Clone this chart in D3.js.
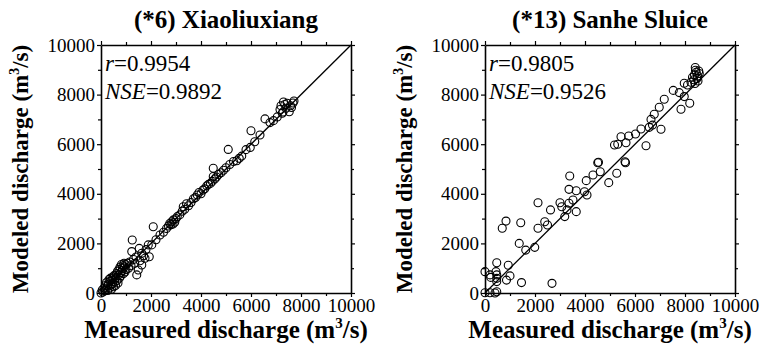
<!DOCTYPE html>
<html>
<head>
<meta charset="utf-8">
<script src="https://cdn.jsdelivr.net/npm/d3@7"></script>
<style>
  body { margin: 0; background: #fff; }
</style>
</head>
<body>
<svg id="chart" width="763" height="355"></svg>
<script>
// panel titles and statistics
const titles = ["(*6) Xiaoliuxiang", "(*13) Sanhe Sluice"];
const rValues = ["0.9954", "0.9805"];
const nseValues = ["0.9892", "0.9526"];
const tickValues = [0, 2000, 4000, 6000, 8000, 10000];
const minorTicks = [1000, 3000, 5000, 7000, 9000];

// measured vs modeled discharge (m3/s)
const xiaoliuxiang = [
  [0,0],[50,120],[80,40],[120,200],[150,90],[180,300],[200,150],[220,420],[250,280],[270,100],
  [300,350],[320,550],[340,200],[360,480],[380,600],[400,320],[420,150],[440,520],[460,380],[480,650],
  [500,250],[520,700],[540,450],[560,560],[580,300],[600,620],[620,780],[640,500],[660,880],[680,400],
  [700,720],[720,950],[740,600],[760,1050],[780,820],[800,700],[820,1150],[840,900],[860,1000],[880,1100],
  [900,780],[920,1200],[940,1050],[960,850],[980,1150],[1000,950],[1050,1200],[1100,1000],[1150,1250],[1200,1100],
  [1230,1670],[1250,2140],[1300,1350],[1350,1200],[1400,1450],[1430,730],[1490,930],[1530,1800],[1560,1300],[1630,1130],
  [1630,1600],[1700,1500],[1760,1400],[1800,1750],[1890,1940],[1930,1460],[2030,1940],[2090,2670],[2200,2150],[2360,2340],
  [2500,2450],[2620,2600],[2700,2700],[2750,2800],[2800,2750],[2830,2870],[2880,2780],[2900,2950],[2950,2850],[3000,3000],
  [3050,3080],[3150,3150],[3250,3300],[3290,3480],[3350,3380],[3420,3600],[3500,3520],[3600,3650],[3700,3800],[3780,3850],
  [3850,3950],[3920,4050],[4000,4000],[4080,4150],[4150,4200],[4230,4320],[4300,4380],[4380,4420],[4450,4500],[4490,4700],
  [4490,5030],[4550,4600],[4620,4680],[4700,4780],[4800,4850],[4900,4950],[5000,5050],[5090,5790],[5150,5180],[5300,5300],
  [5430,5330],[5530,5430],[5630,5520],[5800,5780],[5970,5870],[6000,6540],[6150,6100],[6360,6370],[6560,7020],[6760,6870],
  [6900,6950],[7050,7100],[7160,7400],[7200,7550],[7280,7300],[7350,7600],[7400,7450],[7450,7650],[7530,7310],[7580,7550],
  [7620,7480],[7680,7660],[7720,7740],[7300,7700],[7250,7250]
];
const sanheSluice = [
  [0,10],[0,860],[200,10],[200,730],[230,630],[400,0],[470,50],[470,460],[470,590],[470,730],
  [440,860],[470,1220],[860,520],[1000,690],[930,1120],[690,2610],[840,2900],[1460,420],[1370,2000],[1430,2830],
  [1630,1730],[1990,1840],[2120,2610],[2120,3640],[2390,2870],[2500,2740],[2620,3350],[2680,390],[3000,3640],[3070,3480],
  [3190,3080],[3280,3350],[3360,3620],[3360,4180],[3390,4720],[3520,3750],[3650,3280],[3650,4120],[3980,4080],[4080,3950],
  [4050,4530],[4320,4760],[4510,5250],[4540,5270],[4610,4890],[4950,4450],[5180,5970],[5270,4830],[5310,6000],[5440,6300],
  [5600,5290],[5620,5250],[5640,6060],[5750,6330],[6020,6410],[6240,6610],[6440,5940],[6570,6680],[6640,7000],[6700,6770],
  [6770,7210],[6970,7490],[7040,6600],[7170,7810],[7530,8170],[7770,8080],[7840,7410],[7970,7920],[7970,8460],[8100,8390],
  [8190,7650],[8240,8500],[8300,8700],[8350,8600],[8380,8800],[8400,8450],[8410,9090],[8450,8900],[8480,8650],[8500,8750],
  [8520,8550],[8550,8950],[8570,8850],[8420,8980]
];

const panels = [
  { data: xiaoliuxiang, left: 101, cx: 226 },
  { data: sanheSluice, left: 485, cx: 610 }
];

const serif = "Tinos, 'Liberation Serif', 'Noto Serif', FreeSerif, 'DejaVu Serif', serif";
const svg = d3.select("#chart").attr("font-family", serif);
const plotTop = 45, plotH = 248, plotW = 250;

panels.forEach((p, i) => {
  const x = d3.scaleLinear().domain([0, 10000]).range([0, plotW]);
  const y = d3.scaleLinear().domain([0, 10000]).range([plotH, 0]);
  const g = svg.append("g").attr("transform", `translate(${p.left}, ${plotTop})`);

  // axes on four sides, major and minor ticks
  const styleAxis = sel => {
    sel.attr("font-family", serif);
    sel.select(".domain").attr("stroke", "#000").attr("stroke-width", 1.6);
    sel.selectAll(".tick line").attr("stroke", "#000").attr("stroke-width", 1.2);
  };
  const fmt = d3.format("d");
  g.append("g").attr("transform", `translate(0, ${plotH})`)
    .call(d3.axisBottom(x).tickValues(tickValues).tickFormat(fmt).tickSize(4).tickSizeOuter(0).tickPadding(2))
    .call(styleAxis)
    .selectAll("text").attr("font-size", 19).attr("fill", "#000");
  g.append("g")
    .call(d3.axisLeft(y).tickValues(tickValues).tickFormat(fmt).tickSize(4).tickSizeOuter(0).tickPadding(2))
    .call(styleAxis)
    .selectAll("text").attr("font-size", 19).attr("fill", "#000");
  g.append("g")
    .call(d3.axisTop(x).tickValues(tickValues).tickFormat("").tickSize(4).tickSizeOuter(0))
    .call(styleAxis);
  g.append("g").attr("transform", `translate(${plotW}, 0)`)
    .call(d3.axisRight(y).tickValues(tickValues).tickFormat("").tickSize(4).tickSizeOuter(0))
    .call(styleAxis);
  // minor ticks
  g.append("g").attr("transform", `translate(0, ${plotH})`)
    .call(d3.axisBottom(x).tickValues(minorTicks).tickFormat("").tickSize(3)).call(styleAxis)
    .select(".domain").remove();
  g.append("g")
    .call(d3.axisLeft(y).tickValues(minorTicks).tickFormat("").tickSize(3)).call(styleAxis)
    .select(".domain").remove();
  g.append("g")
    .call(d3.axisTop(x).tickValues(minorTicks).tickFormat("").tickSize(3)).call(styleAxis)
    .select(".domain").remove();
  g.append("g").attr("transform", `translate(${plotW}, 0)`)
    .call(d3.axisRight(y).tickValues(minorTicks).tickFormat("").tickSize(3)).call(styleAxis)
    .select(".domain").remove();

  // 1:1 line
  g.append("line")
    .attr("x1", x(0)).attr("y1", y(0))
    .attr("x2", x(10000)).attr("y2", y(10000))
    .attr("stroke", "#000").attr("stroke-width", 1.3);

  // points
  g.selectAll("circle.pt")
    .data(p.data)
    .enter()
    .append("circle")
    .attr("class", "pt")
    .attr("cx", d => x(d[0]))
    .attr("cy", d => y(d[1]))
    .attr("r", 4)
    .attr("fill", "none")
    .attr("stroke", "#000")
    .attr("stroke-width", 1.1);

  // statistics
  const r = g.append("text").attr("x", 4).attr("y", 26).attr("font-size", 23);
  r.append("tspan").attr("font-style", "italic").text("r");
  r.append("tspan").text("=" + rValues[i]);
  const n = g.append("text").attr("x", 4).attr("y", 54).attr("font-size", 23);
  n.append("tspan").attr("font-style", "italic").text("NSE");
  n.append("tspan").text("=" + nseValues[i]);

  // title
  svg.append("text")
    .attr("x", p.cx).attr("y", 28)
    .attr("text-anchor", "middle")
    .attr("font-size", 25).attr("font-weight", "bold")
    .text(titles[i]);

  // x label
  const xl = svg.append("text")
    .attr("x", p.cx).attr("y", 338)
    .attr("text-anchor", "middle")
    .attr("font-size", 25).attr("font-weight", "bold");
  xl.append("tspan").text("Measured discharge (m");
  xl.append("tspan").attr("font-size", 15).attr("dy", -10).text("3");
  xl.append("tspan").attr("dy", 10).text("/s)");

  // y label
  const yl = svg.append("text")
    .attr("transform", `translate(${p.left - 73}, ${plotTop + plotH / 2}) rotate(-90)`)
    .attr("text-anchor", "middle")
    .attr("font-size", 23).attr("font-weight", "bold");
  yl.append("tspan").text("Modeled discharge (m");
  yl.append("tspan").attr("font-size", 14).attr("dy", -9).text("3");
  yl.append("tspan").attr("dy", 9).text("/s)");
});
</script>
</body>
</html>
